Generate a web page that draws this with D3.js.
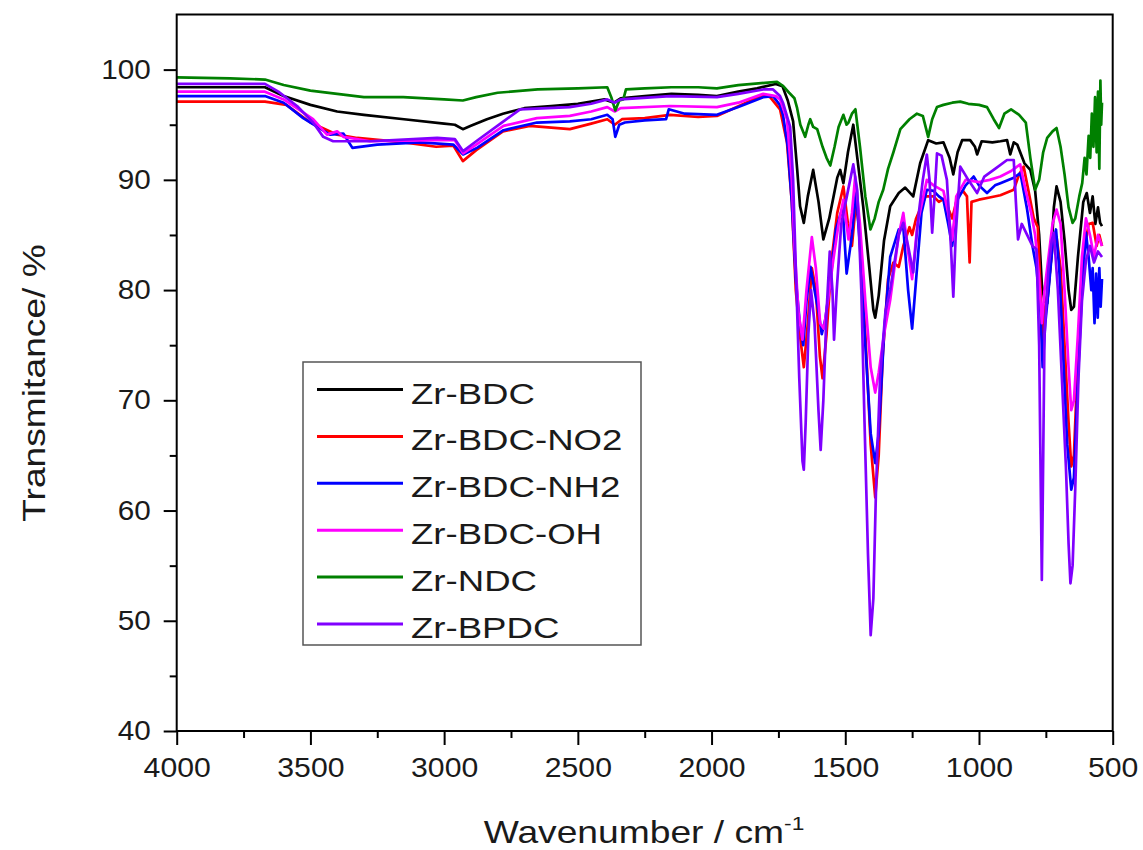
<!DOCTYPE html>
<html lang="en">
<head>
  <meta charset="UTF-8">
  <title>FTIR spectra of Zr MOFs</title>
  <script src="https://d3js.org/d3.v7.min.js"></script>
  <style>
    body {
      margin: 0;
      background: #fff;
      font-family: "Liberation Sans", Arial, sans-serif;
    }
    svg { display: block; }
  </style>
</head>
<body>
<div id="chart"></div>
<script>
  // series, in legend order
  const seriesNames = ["Zr-BDC", "Zr-BDC-NO2", "Zr-BDC-NH2", "Zr-BDC-OH", "Zr-NDC", "Zr-BPDC"];

  // [wavenumber (cm-1), transmittance (%)]
  const zrBDC = [[4000,98.4],[3800,98.4],[3670,98.4],[3600,97.6],[3500,96.8],[3400,96.2],[3300,95.9],[3150,95.5],[3000,95.1],[2960,95.0],[2930,94.6],[2900,94.9],[2840,95.5],[2780,96.0],[2700,96.5],[2600,96.7],[2500,96.9],[2400,97.3],[2365,97.0],[2340,97.4],[2250,97.6],[2150,97.8],[2050,97.7],[1980,97.6],[1900,98.0],[1830,98.3],[1760,98.7],[1735,98.5],[1715,97.2],[1695,95.3],[1680,91],[1669,87.6],[1655,86.1],[1640,88.5],[1620,90.9],[1600,88],[1582,84.6],[1560,86.5],[1530,90.2],[1519,90.9],[1507,89.7],[1490,92.5],[1470,95.0],[1455,92],[1433,87.6],[1410,82],[1395,78.2],[1388,77.5],[1375,79.5],[1355,84.5],[1332,87.6],[1300,88.8],[1276,89.3],[1246,88.5],[1220,91.5],[1190,93.6],[1160,93.3],[1133,93.4],[1110,92],[1096,90.5],[1080,92.5],[1063,93.6],[1033,93.6],[1015,93],[1007,92.3],[990,93.5],[950,93.4],[920,93.5],[895,93.6],[883,92.3],[870,93.4],[857,93.2],[830,91.5],[808,90.9],[790,89],[775,85],[765,80.5],[755,79],[745,78.8],[730,83],[720,87.5],[710,89.4],[695,88],[680,84.5],[665,80],[655,78.2],[645,78.5],[630,83],[610,88],[597,88.8],[585,87],[575,88.5],[565,86],[555,87.5],[547,86.1],[540,85.8]];

  const zrBDCNO2 = [[4000,97.1],[3800,97.1],[3670,97.1],[3590,96.8],[3500,95.2],[3400,94.1],[3325,93.8],[3150,93.4],[3030,93.0],[2965,93.1],[2930,91.7],[2880,92.7],[2780,94.4],[2680,94.9],[2530,94.6],[2450,95.1],[2390,95.5],[2362,95.0],[2335,95.5],[2250,95.6],[2155,95.9],[2050,95.7],[1980,95.8],[1906,96.6],[1807,97.7],[1781,97.5],[1744,96.4],[1718,93.4],[1700,88],[1685,80],[1670,76],[1655,73],[1640,77],[1625,82],[1610,80],[1595,74],[1585,72],[1570,76],[1550,83],[1530,87],[1507,89.4],[1490,86],[1475,84],[1460,88],[1445,85],[1425,76],[1405,66],[1388,61.2],[1375,65],[1360,74],[1340,81],[1320,82.5],[1300,82.1],[1283,84],[1260,85.7],[1250,85],[1235,86.5],[1200,88.5],[1170,88.5],[1150,88],[1130,88.3],[1100,86.5],[1080,88.5],[1060,89],[1045,88.5],[1035,82.5],[1028,88],[1000,88.2],[960,88.4],[920,88.6],[870,89.1],[850,90.5],[833,91.2],[815,89],[795,86.5],[780,85.7],[770,80],[763,75],[755,78],[740,80.5],[725,84],[710,84.8],[695,82],[680,75],[665,68],[655,64],[645,65],[630,74],[610,83],[590,86],[575,86.1],[560,84],[550,85],[540,84]];

  const zrBDCNH2 = [[4000,97.6],[3800,97.6],[3670,97.6],[3600,97.0],[3527,95.6],[3427,94.1],[3377,94.2],[3343,92.9],[3250,93.2],[3090,93.4],[2966,93.2],[2929,92.3],[2877,92.9],[2778,94.5],[2653,95.2],[2530,95.3],[2450,95.5],[2390,95.9],[2370,95.5],[2360,93.9],[2345,95.0],[2324,95.2],[2250,95.4],[2170,95.5],[2160,96.4],[2100,96.0],[1980,95.9],[1900,96.6],[1807,97.5],[1770,97.6],[1745,96.8],[1733,95.9],[1715,93],[1700,88],[1685,81],[1670,77],[1657,75],[1645,79],[1630,82.1],[1615,80],[1600,78],[1588,76],[1575,77.3],[1555,81],[1535,85.5],[1510,87.5],[1495,81.5],[1475,85],[1460,89],[1445,84],[1425,75],[1405,67],[1388,64.3],[1375,67],[1355,76],[1332,83],[1300,85.5],[1283,85.7],[1265,80],[1250,76.5],[1235,81],[1215,87],[1195,89.1],[1170,89],[1150,88.5],[1133,88.2],[1115,86],[1100,84],[1085,88],[1050,89.5],[1020,90.3],[1000,89.5],[970,88.8],[940,89.5],[920,89.7],[870,90.2],[845,90.6],[820,87.3],[800,84],[785,82],[770,78],[762,73],[752,77],[740,80],[725,84],[712,85.5],[700,82],[685,74],[670,66],[655,61.9],[645,63],[630,72],[615,80],[600,85.2],[590,83],[580,80],[575,82],[568,77],[562,81.5],[556,77.5],[550,82],[545,78.5],[540,81]];

  const zrBDCOH = [[4000,98.0],[3800,98.0],[3670,98.0],[3600,97.3],[3490,95.5],[3438,94.1],[3400,94.4],[3377,93.9],[3277,93.5],[3026,93.6],[2960,93.6],[2929,92.4],[2880,93.2],[2778,94.9],[2653,95.6],[2530,95.8],[2450,96.2],[2390,96.6],[2362,96.2],[2340,96.5],[2155,96.7],[1980,96.6],[1900,97.0],[1807,97.8],[1760,97.6],[1744,97.3],[1718,95.5],[1700,90],[1690,84],[1675,78],[1660,75.5],[1645,80],[1625,84.8],[1610,82],[1594,77],[1580,76.5],[1565,79],[1545,82.7],[1525,86],[1507,88.2],[1488,84.6],[1475,87],[1463,90.3],[1445,86],[1425,79],[1405,73],[1388,70.7],[1375,72.5],[1355,76],[1332,79.1],[1300,85],[1283,87],[1265,83.5],[1250,81],[1230,86],[1195,90],[1170,89.5],[1133,89],[1115,87],[1100,84.5],[1085,88.5],[1050,90],[1000,89.8],[960,90],[920,90.3],[880,90.8],[846,91.4],[825,89],[805,87],[790,85],[775,81],[765,77],[755,80],[740,83],[725,86],[710,87.3],[695,86],[680,80],[665,73],[655,69.1],[645,70],[630,76],[615,83],[600,86.5],[585,85],[570,83],[555,85],[540,84]];

  const zrNDC = [[4000,99.3],[3800,99.2],[3670,99.1],[3600,98.6],[3500,98.1],[3400,97.8],[3300,97.5],[3153,97.5],[3000,97.3],[2930,97.2],[2880,97.5],[2800,97.9],[2650,98.2],[2500,98.3],[2390,98.4],[2375,97.5],[2360,96.3],[2345,97.2],[2330,97.3],[2320,98.2],[2250,98.3],[2150,98.4],[2050,98.4],[1980,98.3],[1900,98.6],[1800,98.8],[1755,98.9],[1732,98.5],[1710,97.9],[1690,97.4],[1680,96.5],[1668,95],[1650,93.9],[1638,95],[1631,95.5],[1620,94.8],[1605,94.6],[1585,93],[1570,92],[1556,91.3],[1540,93],[1525,94.8],[1507,95.9],[1495,95],[1488,95.2],[1475,96],[1462,96.4],[1445,93],[1425,88.5],[1406,85.5],[1390,86.5],[1375,88],[1358,89.1],[1340,91],[1320,92.5],[1294,94.6],[1260,95.5],[1232,96],[1210,95.8],[1190,93.9],[1175,95.5],[1157,96.6],[1133,96.8],[1100,97.0],[1070,97.1],[1040,96.9],[1000,96.8],[970,96.6],[945,95.5],[925,94.7],[905,96],[880,96.4],[850,95.9],[825,95.2],[808,92],[790,89.1],[775,90],[760,92.5],[745,93.8],[725,94.4],[710,94.7],[695,93],[680,90.5],[665,87.5],[650,86.1],[640,86.5],[625,88.5],[614,89.7],[605,92],[598,90.5],[590,94],[584,92],[578,96],[572,93],[566,97.5],[560,92.5],[555,98],[550,91],[546,99],[543,95],[540,97]];

  const zrBPDC = [[4000,98.7],[3800,98.7],[3670,98.7],[3620,98.0],[3550,96.7],[3490,95.2],[3452,93.9],[3415,93.5],[3277,93.5],[3026,93.8],[2960,93.7],[2929,92.6],[2880,93.5],[2778,95.3],[2716,96.4],[2530,96.6],[2450,96.9],[2390,97.3],[2362,97.0],[2340,97.3],[2155,97.6],[1980,97.5],[1900,97.8],[1807,98.2],[1770,98.2],[1744,97.6],[1733,97.0],[1706,94.8],[1695,90],[1685,82],[1672,72],[1660,64.5],[1655,63.7],[1648,68],[1638,76],[1628,80],[1615,77],[1600,69],[1592,65.5],[1582,70],[1570,78],[1558,83.5],[1548,80],[1542,75.5],[1532,80],[1515,86],[1490,89],[1470,91.4],[1455,89],[1440,80],[1428,68],[1415,56],[1405,48.7],[1395,52],[1385,62],[1370,72],[1350,78],[1332,80],[1300,85],[1283,86.1],[1265,84],[1246,81.6],[1225,87],[1210,90],[1195,92.3],[1185,90],[1175,85.2],[1165,89],[1157,92.4],[1140,92.2],[1120,90],[1105,84],[1096,79.4],[1087,85],[1070,91.2],[1040,90],[1007,88.8],[980,90.3],[940,91],[895,91.8],[870,91.8],[862,88],[854,84.6],[840,86],[820,85],[800,84],[785,83.7],[775,75],[768,60],[765,53.7],[762,60],[755,76],[740,82],[728,84.5],[720,85.2],[705,80],[690,72],[675,64],[665,57],[658,53.4],[650,55],[640,62],[628,72],[615,79],[600,82.7],[585,84],[570,82.5],[555,83.5],[540,83]];

  const seriesValues = [zrBDC, zrBDCNO2, zrBDCNH2, zrBDCOH, zrNDC, zrBPDC];

  const xTicks = [4000, 3500, 3000, 2500, 2000, 1500, 1000, 500];
  const xMinorTicks = [3750, 3250, 2750, 2250, 1750, 1250, 750];
  const yTicks = [40, 50, 60, 70, 80, 90, 100];
  const yMinorTicks = [45, 55, 65, 75, 85, 95];

  const margin = {top: 14.5, right: 30.3, bottom: 119, left: 176.7},
        width = 1143 - margin.left - margin.right,
        height = 850 - margin.top - margin.bottom;

  const color = d3.scaleOrdinal()
                  .domain(seriesNames)
                  .range(["#000000", "#ff0000", "#0000ff", "#ff00ff", "#008000", "#8000ff"]);

  const svg = d3.select("#chart")
                .append("svg")
                .attr("width", 1143)
                .attr("height", 850);

  const g = svg.append("g")
               .attr("transform", `translate(${margin.left},${margin.top})`);

  const x = d3.scaleLinear().domain([4000, 500]).range([0, width]);
  const y = d3.scaleLinear().domain([40, 105]).range([height, 0]);

  // clip so nothing leaks out of the frame
  svg.append("defs").append("clipPath").attr("id", "plot-clip")
     .append("rect").attr("width", width).attr("height", height);

  const line = d3.line()
                 .x(d => x(d[0]))
                 .y(d => y(d[1]));

  g.append("g")
   .attr("clip-path", "url(#plot-clip)")
   .selectAll("path")
   .data(seriesNames.map((name, i) => ({name, values: seriesValues[i]})))
   .join("path")
   .attr("fill", "none")
   .attr("stroke", d => color(d.name))
   .attr("stroke-width", 2.7)
   .attr("stroke-linejoin", "round")
   .attr("d", d => line(d.values));

  // axes (major + minor ticks, pointing outward)
  const xAxis = g.append("g")
     .attr("transform", `translate(0,${height})`)
     .call(d3.axisBottom(x).tickValues(xTicks).tickFormat(d3.format("d"))
             .tickSize(14).tickPadding(13).tickSizeOuter(0));
  g.append("g")
     .attr("transform", `translate(0,${height})`)
     .call(d3.axisBottom(x).tickValues(xMinorTicks).tickSize(7).tickFormat("").tickSizeOuter(0));

  const yAxis = g.append("g")
     .call(d3.axisLeft(y).tickValues(yTicks).tickFormat(d3.format("d"))
             .tickSize(13).tickPadding(13).tickSizeOuter(0));
  g.append("g")
     .call(d3.axisLeft(y).tickValues(yMinorTicks).tickSize(7).tickFormat("").tickSizeOuter(0));

  g.selectAll(".domain").remove();
  g.selectAll(".tick line").attr("stroke", "#000").attr("stroke-width", 2);

  xAxis.selectAll("text")
       .attr("font-size", 27)
       .attr("font-family", "'Liberation Sans', Arial, sans-serif")
       .attr("fill", "#1a1a1a")
       .attr("transform", "scale(1.12,1)");

  yAxis.selectAll("text")
       .attr("font-size", 27)
       .attr("font-family", "'Liberation Sans', Arial, sans-serif")
       .attr("fill", "#1a1a1a")
       .attr("x", 0)
       .attr("transform", "translate(-26,0) scale(1.1,1)");

  // frame
  g.append("rect")
   .attr("width", width)
   .attr("height", height)
   .attr("fill", "none")
   .attr("stroke", "#000")
   .attr("stroke-width", 2);

  // axis titles
  const xTitle = svg.append("g")
     .attr("transform", "translate(644,843) scale(1.2,1)")
     .append("text")
     .attr("text-anchor", "middle")
     .attr("font-size", 31)
     .attr("fill", "#1a1a1a");
  xTitle.append("tspan").text("Wavenumber / cm");
  xTitle.append("tspan").attr("font-size", 19).attr("dy", -13).text("-1");

  svg.append("g")
     .attr("transform", "translate(45,383) rotate(-90) scale(1.2,1)")
     .append("text")
     .attr("text-anchor", "middle")
     .attr("font-size", 31)
     .attr("fill", "#1a1a1a")
     .text("Transmitance/ %");

  // legend
  const legend = svg.append("g").attr("transform", "translate(303,362)");
  legend.append("rect")
        .attr("width", 338)
        .attr("height", 283)
        .attr("fill", "#fff")
        .attr("stroke", "#555")
        .attr("stroke-width", 1.5);

  const rows = legend.selectAll(".row")
        .data(seriesNames)
        .join("g")
        .attr("class", "row")
        .attr("transform", (d, i) => `translate(0,${27.5 + i * 46.9})`);

  rows.append("line")
      .attr("x1", 14).attr("x2", 100)
      .attr("stroke", d => color(d))
      .attr("stroke-width", 3);

  rows.append("g")
      .attr("transform", "translate(108,14) scale(1.22,1)")
      .append("text")
      .attr("font-size", 30)
      .attr("fill", "#1a1a1a")
      .text(d => d);
</script>
</body>
</html>
